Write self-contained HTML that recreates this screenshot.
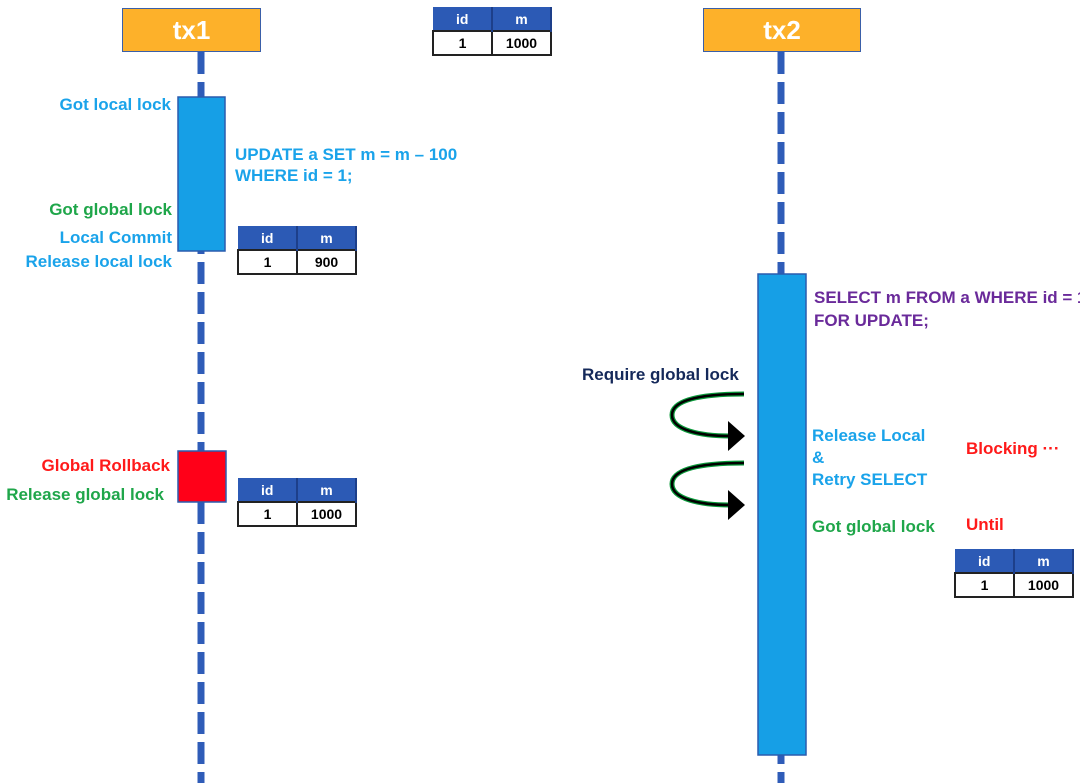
<!DOCTYPE html>
<html><head><meta charset="utf-8"><style>
body{margin:0;width:1080px;height:783px;background:#fff;position:relative;overflow:hidden;font-family:"Liberation Sans",sans-serif;font-weight:bold}
.a{position:absolute;white-space:nowrap}
.t{font-size:17px;line-height:20px}
table{position:absolute;border-collapse:collapse;font-size:14px}
td{width:57px;height:22px;text-align:center;padding:0;border:2px solid #222}
tr.h td{background:#2c5ab5;color:#fff;border:1px solid #2c5ab5;border-right:2px solid #1d3f8a}
</style></head><body>
<svg class="a" style="left:0;top:0" width="1080" height="783">
<line x1="201" y1="52" x2="201" y2="783" stroke="#2f5cb8" stroke-width="7" stroke-dasharray="22 8"/>
<line x1="781" y1="52" x2="781" y2="783" stroke="#2f5cb8" stroke-width="7" stroke-dasharray="22 8"/>
<rect x="178" y="97" width="47" height="154" fill="#169fe6" stroke="#2a5cae" stroke-width="1.5"/>
<rect x="178" y="451" width="48" height="51" fill="#ff0018" stroke="#2a5cae" stroke-width="1.5"/>
<rect x="758" y="274" width="48" height="481" fill="#169fe6" stroke="#2a5cae" stroke-width="1.5"/>
<g fill="none" stroke="#0a9a3a" stroke-width="5">
<path d="M744 394 C700 394 672 400 672 415 C672 430 700 436 730 436"/>
<path d="M744 463 C700 463 672 469 672 484 C672 499 700 505 730 505"/>
</g>
<g fill="none" stroke="#000" stroke-width="2.5">
<path d="M744 394 C700 394 672 400 672 415 C672 430 700 436 730 436"/>
<path d="M744 463 C700 463 672 469 672 484 C672 499 700 505 730 505"/>
</g>
<polygon points="728,421 745,436 728,451" fill="#000"/>
<polygon points="728,490 745,505 728,520" fill="#000"/>
</svg>
<div class="a" style="left:122px;top:8px;width:137px;height:42px;background:#fdb12a;border:1.5px solid #3a5fa8;color:#fff;font-size:26px;line-height:42px;text-align:center">tx1</div>
<div class="a" style="left:703px;top:8px;width:156px;height:42px;background:#fdb12a;border:1.5px solid #3a5fa8;color:#fff;font-size:26px;line-height:42px;text-align:center">tx2</div>
<table style="left:432px;top:7px"><tr class="h"><td>id</td><td>m</td></tr><tr><td>1</td><td>1000</td></tr></table>
<table style="left:237px;top:226px"><tr class="h"><td>id</td><td>m</td></tr><tr><td>1</td><td>900</td></tr></table>
<table style="left:237px;top:478px"><tr class="h"><td>id</td><td>m</td></tr><tr><td>1</td><td>1000</td></tr></table>
<table style="left:954px;top:549px"><tr class="h"><td>id</td><td>m</td></tr><tr><td>1</td><td>1000</td></tr></table>
<div class="a t" style="right:909px;top:95px;color:#1aa3ea">Got local lock</div>
<div class="a t" style="left:235px;top:144px;color:#1aa3ea;line-height:21px">UPDATE a SET m = m – 100<br>WHERE id = 1;</div>
<div class="a t" style="right:908px;top:200px;color:#1fa64a">Got global lock</div>
<div class="a t" style="right:908px;top:228px;color:#1aa3ea">Local Commit</div>
<div class="a t" style="right:908px;top:252px;color:#1aa3ea">Release local lock</div>
<div class="a t" style="right:910px;top:456px;color:#ff1a1a">Global Rollback</div>
<div class="a t" style="right:916px;top:485px;color:#1fa64a">Release global lock</div>
<div class="a t" style="left:814px;top:286px;color:#6a2a9a;line-height:23px">SELECT m FROM a WHERE id = 1<br>FOR UPDATE;</div>
<div class="a t" style="left:582px;top:365px;color:#15295a">Require global lock</div>
<div class="a t" style="left:812px;top:425px;color:#1aa3ea;line-height:22px">Release Local<br>&amp;<br>Retry SELECT</div>
<div class="a t" style="left:966px;top:439px;color:#ff1a1a">Blocking ···</div>
<div class="a t" style="left:812px;top:517px;color:#1fa64a">Got global lock</div>
<div class="a t" style="left:966px;top:515px;color:#ff1a1a">Until</div>
</body></html>
